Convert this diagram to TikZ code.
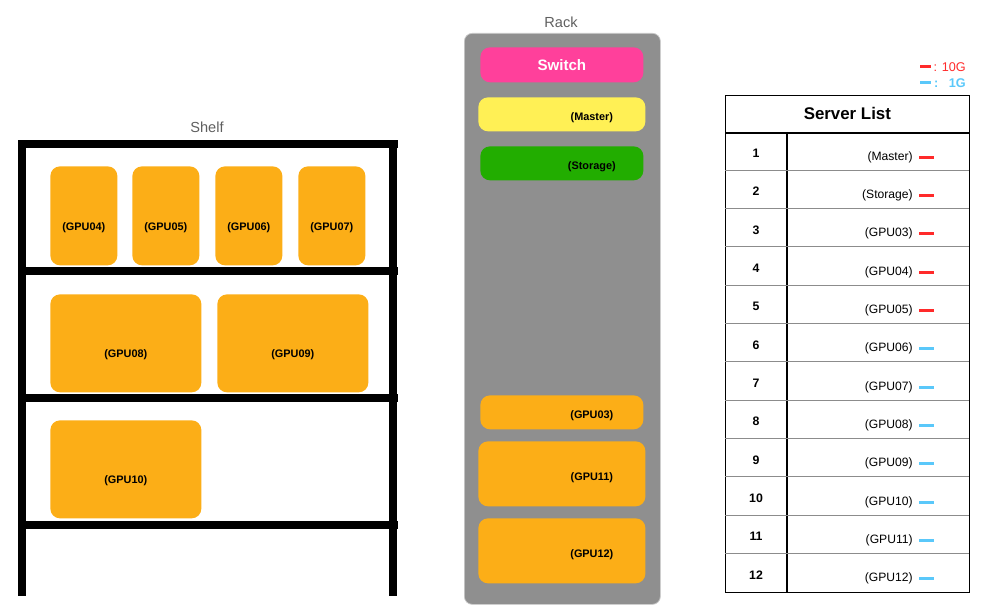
\documentclass[tikz,border=0pt]{standalone}
\usepackage{fontspec}
\setmainfont{Liberation Sans}
\usetikzlibrary{positioning}
\usepackage{color}
\definecolor{gpuorange}{RGB}{252,174,23}
\definecolor{rackgray}{RGB}{143,143,143}
\definecolor{rackedge}{RGB}{200,200,200}
\definecolor{switchpink}{RGB}{255,64,155}
\definecolor{masteryellow}{RGB}{255,240,85}
\definecolor{storagegreen}{RGB}{34,173,0}
\definecolor{tenred}{RGB}{255,42,42}
\definecolor{oneblue}{RGB}{90,200,250}
\definecolor{captiongray}{RGB}{95,95,95}
\definecolor{rowgray}{RGB}{140,140,140}
\newcommand{\pxu}{0.02cm}
\newcommand{\rowh}{38.33}
\newcommand{\gpu}[1]{(GPU#1)}
\tikzset{
    box/.style={anchor=north west, rounded corners=5.5pt, inner sep=0pt},
    boxsize/.style 2 args={minimum width=#1*\pxu, minimum height=#2*\pxu},
    gpubox/.style={box, fill=gpuorange},
    boxtext/.style={font=\fontsize{6.2}{7}\selectfont\bfseries, inner sep=0pt},
    caption/.style={text=captiongray, font=\fontsize{8.3}{10}\selectfont},
    bar/.style={line width=8*\pxu, line cap=rect},
    numcell/.style={font=\fontsize{7}{8}\selectfont\bfseries, inner sep=0pt},
    srvtext/.style={anchor=east, font=\fontsize{6.9}{8}\selectfont, inner sep=0pt},
    link/.style={line width=3*\pxu},
    rowline/.style={rowgray, line width=1*\pxu}
}

\begin{document}
\begin{tikzpicture}[x=\pxu, y=-\pxu]
    \useasboundingbox (0,0) rectangle (982,614);

    % shelf
    \node[caption] (shelf) at (207,127) {Shelf};
    \draw[bar] (21.5,144) -- (21.5,592);
    \draw[bar] (393,144) -- (393,592);
    \foreach \y in {144,271,398,525}
        \draw[bar] (21.5,\y) -- (394,\y);

    \node[gpubox, boxsize={67}{99}, label={[boxtext, yshift=-11.5*\pxu]center:\gpu{04}}] (gpu04) at (50,166) {};
    \node[gpubox, boxsize={67}{99}, label={[boxtext, yshift=-11.5*\pxu]center:\gpu{05}}] (gpu05) at (132,166) {};
    \node[gpubox, boxsize={67}{99}, label={[boxtext, yshift=-11.5*\pxu]center:\gpu{06}}] (gpu06) at (215,166) {};
    \node[gpubox, boxsize={67}{99}, label={[boxtext, yshift=-11.5*\pxu]center:\gpu{07}}] (gpu07) at (298,166) {};
    \node[gpubox, boxsize={151}{98}, label={[boxtext, yshift=-11.5*\pxu]center:\gpu{08}}] (gpu08) at (50,294) {};
    \node[gpubox, boxsize={151}{98}, label={[boxtext, yshift=-11.5*\pxu]center:\gpu{09}}] (gpu09) at (217,294) {};
    \node[gpubox, boxsize={151}{98}, label={[boxtext, yshift=-11.5*\pxu]center:\gpu{10}}] (gpu10) at (50,420) {};

    % rack
    \node[caption] (racktitle) at (561,22) {Rack};
    \node[box, boxsize={196}{571}, fill=rackgray, draw=rackedge, rounded corners=4.5pt] (rack) at (464,33) {};
    \node[box, boxsize={163}{35}, fill=switchpink, text=white, font=\fontsize{8.6}{10}\selectfont\bfseries] (switch) at (480,47) {Switch};
    \node[box, boxsize={167}{34}, fill=masteryellow, label={[boxtext, xshift=30*\pxu, yshift=-3*\pxu]center:(Master)}] (master) at (478,97) {};
    \node[box, boxsize={163}{34}, fill=storagegreen, label={[boxtext, xshift=30*\pxu, yshift=-3*\pxu]center:(Storage)}] (storage) at (480,146) {};
    \node[gpubox, boxsize={163}{34}, label={[boxtext, xshift=30*\pxu, yshift=-3*\pxu]center:\gpu{03}}] (gpu03) at (480,395) {};
    \node[gpubox, boxsize={167}{65}, label={[boxtext, xshift=30*\pxu, yshift=-4*\pxu]center:\gpu{11}}] (gpu11) at (478,441) {};
    \node[gpubox, boxsize={167}{65}, label={[boxtext, xshift=30*\pxu, yshift=-4*\pxu]center:\gpu{12}}] (gpu12) at (478,518) {};

    % legend
    \node[anchor=east, text=tenred, font=\fontsize{7.2}{8}\selectfont, inner sep=0pt] (ten) at (966,67) {: 10G};
    \node[anchor=east, text=oneblue, font=\fontsize{7.2}{8}\selectfont\bfseries, inner sep=0pt] (one) at (966,83) {:\ \ \ 1G};
    \draw[link, tenred] (920,67) -- (931,67);
    \draw[link, oneblue] (920,83) -- (931,83);

    % server list
    \node[box, draw, rounded corners=0pt, boxsize={244}{37}, font=\fontsize{9.6}{11}\selectfont\bfseries] (listtitle) at (725,95) {Server List};
    \draw[line width=1*\pxu] (listtitle.south west) rectangle (969,592);
    \draw[line width=2*\pxu] (listtitle.south west) -- (listtitle.south east);
    \draw[line width=2*\pxu] (787,132) -- (787,592);
    \foreach \n/\srv/\lnk in {1/Master/tenred, 2/Storage/tenred, 3/GPU03/tenred,
            4/GPU04/tenred, 5/GPU05/tenred, 6/GPU06/oneblue, 7/GPU07/oneblue,
            8/GPU08/oneblue, 9/GPU09/oneblue, 10/GPU10/oneblue, 11/GPU11/oneblue,
            12/GPU12/oneblue} {
        \node[numcell] (num\n) at (756,{132+(\n-0.5)*\rowh+2}) {\n};
        \node[srvtext] (srv\n) at (913,{132+(\n-0.5)*\rowh+6}) {(\srv)};
        \draw[link, \lnk] ([xshift=6*\pxu]srv\n.east) -- ++(15,0);
    }
    \foreach \n in {1,...,11}
        \draw[rowline] (725,{132+\n*\rowh}) -- (969,{132+\n*\rowh});
\end{tikzpicture}
\end{document}
